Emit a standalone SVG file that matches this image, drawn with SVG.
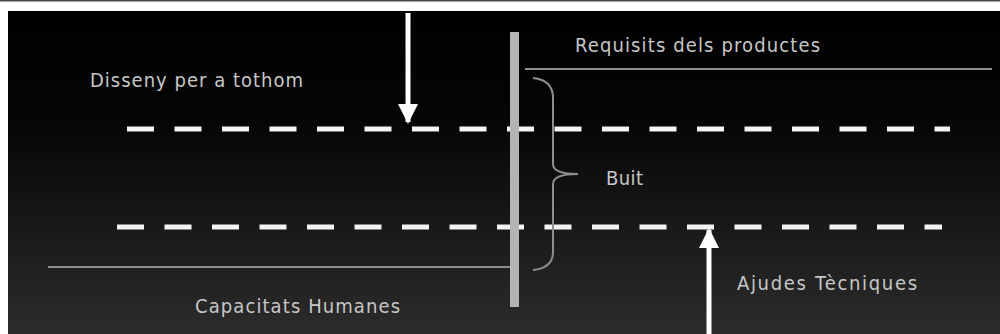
<svg xmlns="http://www.w3.org/2000/svg" width="1000" height="334" viewBox="0 0 1000 334">
<defs>
<linearGradient id="bg" x1="0" y1="0" x2="0" y2="1">
<stop offset="0" stop-color="#000"/>
<stop offset="0.35" stop-color="#060606"/>
<stop offset="1" stop-color="#2c2c2c"/>
</linearGradient>
<marker id="ah" viewBox="0 0 10 10" refX="9" refY="5" markerWidth="4" markerHeight="4" markerUnits="strokeWidth" orient="auto">
<path d="M0,0 L10,5 L0,10 z" fill="#fff"/>
</marker>
<style>
.lbl{font-family:"DejaVu Sans","Liberation Sans",sans-serif;font-stretch:condensed;font-size:20px;fill:#c6c6c6}
.dash{stroke:#f4f4f4;stroke-width:5;stroke-dasharray:27 20.5;fill:none}
.thin{stroke:#8e8e8e;stroke-width:2;fill:none}
.arrow{stroke:#fff;stroke-width:5;fill:none;marker-end:url(#ah)}
</style>
</defs>
<rect x="0" y="0" width="1000" height="334" fill="#fff"/>
<rect x="0" y="0" width="1000" height="1.5" fill="#444"/>
<rect x="8" y="11" width="992" height="323" fill="url(#bg)"/>
<g id="requisits">
<line class="thin" x1="525" y1="69" x2="992" y2="69"/>
<text class="lbl" x="575" y="52" textLength="245">Requisits dels productes</text>
</g>
<g id="capacitats">
<line class="thin" x1="48" y1="267" x2="510" y2="267"/>
<text class="lbl" x="195" y="313" textLength="205">Capacitats Humanes</text>
</g>
<g id="disseny">
<line class="dash" x1="127" y1="129" x2="950" y2="129"/>
<text class="lbl" x="90" y="87" textLength="213">Disseny per a tothom</text>
</g>
<g id="ajudes">
<line class="dash" x1="117" y1="227" x2="942" y2="227"/>
<text class="lbl" x="737" y="290" textLength="180">Ajudes Tècniques</text>
</g>
<g id="bar">
<rect x="510" y="32" width="9" height="275" fill="#b4b4b4"/>
</g>
<g id="buit">
<path class="thin" d="M533,78 Q553,80 553,98 L553,164 Q553,174 578,174 Q553,174 553,184 L553,252 Q553,268 533,270"/>
<text class="lbl" x="606" y="185" textLength="37">Buit</text>
</g>
<g id="connectors">
<line class="arrow" x1="408" y1="13" x2="408" y2="122"/>
<line class="arrow" x1="709" y1="334" x2="709" y2="230"/>
</g>
</svg>
